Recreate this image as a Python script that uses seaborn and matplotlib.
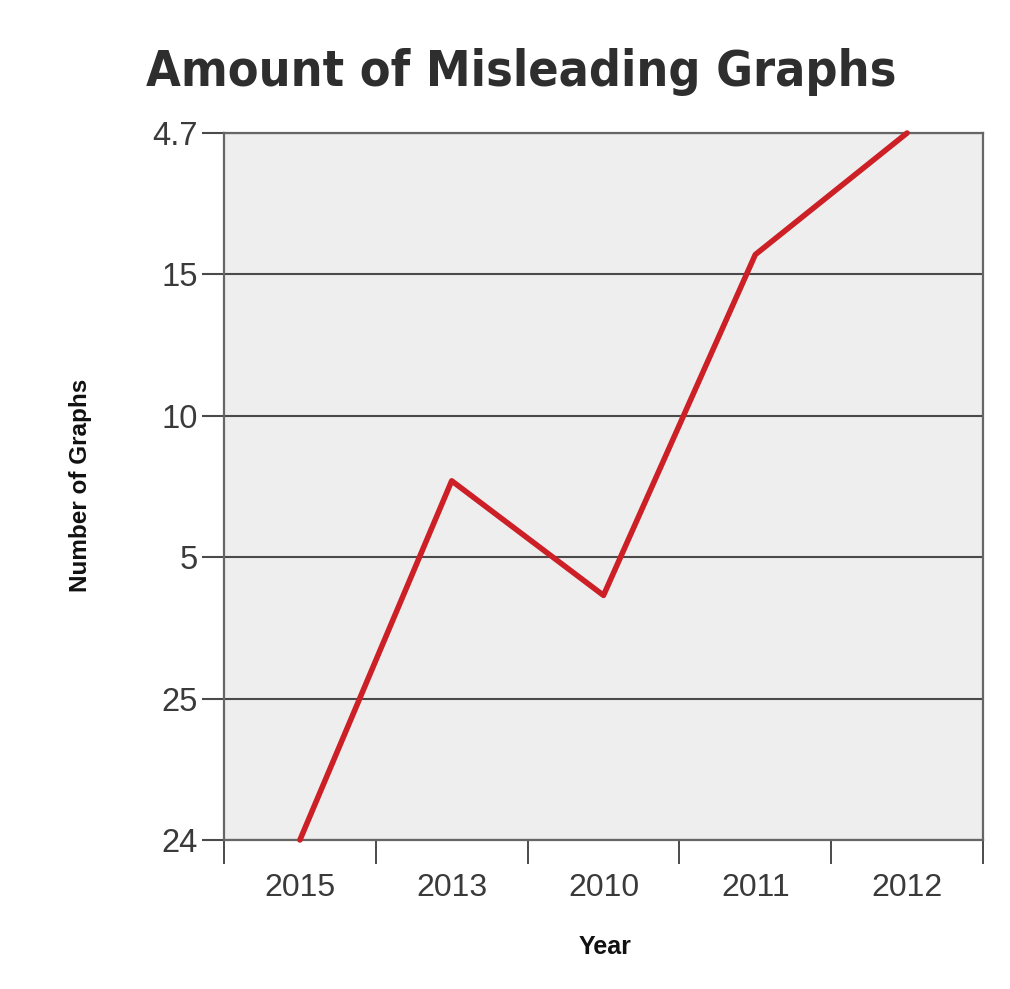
import matplotlib
matplotlib.use("Agg")
import matplotlib.pyplot as plt
import seaborn as sns
import pandas as pd
from matplotlib import font_manager

# Data (y is the position on the misleading scale)
years = ["2015", "2013", "2010", "2011", "2012"]
level = [0.0, 2.54, 1.73, 4.14, 5.0]
ytick_labels = ["24", "25", "5", "10", "15", "4.7"]

LINE_COLOR = "#cc1f26"
FACE = "#eeeeee"
DARK = "#4a4a4a"

sns.set_style("white")
plt.rcParams["font.family"] = ["Liberation Sans", "DejaVu Sans"]

df = pd.DataFrame({"Year": years, "level": level})

fig = plt.figure(figsize=(10.10, 9.89), dpi=100)
ax = fig.add_axes([224 / 1010, 1 - 840 / 989, 759 / 1010, 707 / 989])
ax.set_facecolor(FACE)

sns.lineplot(data=df, x="Year", y="level", ax=ax, color=LINE_COLOR,
             linewidth=4.0, sort=False, clip_on=False, zorder=5)

ax.set_xlim(-0.5, len(years) - 0.5)
ax.set_ylim(0, len(ytick_labels) - 1)

ax.set_yticks(range(len(ytick_labels)))
ax.set_yticklabels(ytick_labels)
ax.yaxis.grid(True, color=DARK, linewidth=1.5)
ax.set_axisbelow(True)

ax.set_xticks(range(len(years)))
ax.set_xticklabels(years)
ax.set_xticks([i - 0.5 for i in range(len(years) + 1)], minor=True)
ax.tick_params(axis="x", which="major", length=0, pad=24, labelsize=23, labelcolor="#3a3a3a")
ax.tick_params(axis="x", which="minor", length=17, width=1.4, color=DARK, direction="out", bottom=True)
ax.tick_params(axis="y", length=16, width=1.5, color=DARK, pad=3, labelsize=23.5,
               labelcolor="#3a3a3a", left=True)

for s in ax.spines.values():
    s.set_visible(True)
    s.set_color("#666666")
    s.set_linewidth(1.6)

ax.set_xlabel("")
ax.set_ylabel("")
fig.text(605 / 1010, 1 - 947 / 989, "Year", ha="center", va="center",
         fontsize=18, fontweight="bold", color="#111111")
fig.text(80 / 1010, 1 - 485 / 989, "Number of Graphs", ha="center", va="center",
         rotation=90, fontsize=17.5, fontweight="bold", color="#111111")

# condensed heavy face for the title if one is installed
cond = None
for f in font_manager.fontManager.ttflist:
    narrow = ("Condensed" in f.name or "Narrow" in f.name
              or f.stretch in ("condensed", "semi-condensed", "extra-condensed", "ultra-condensed"))
    heavy = f.weight in ("bold", "heavy", "black", "extra bold") or (isinstance(f.weight, int) and f.weight >= 600)
    if narrow and heavy:
        cond = f
        break

if cond is not None:
    title_font = font_manager.FontProperties(fname=cond.fname, size=36)
else:
    title_font = font_manager.FontProperties(family="DejaVu Sans", weight="bold", size=33)

fig.text(521 / 1010, 1 - 72 / 989, "Amount of Misleading Graphs", ha="center", va="center",
         fontproperties=title_font, color="#2e2e2e")

fig.savefig("out.png", dpi=100)
